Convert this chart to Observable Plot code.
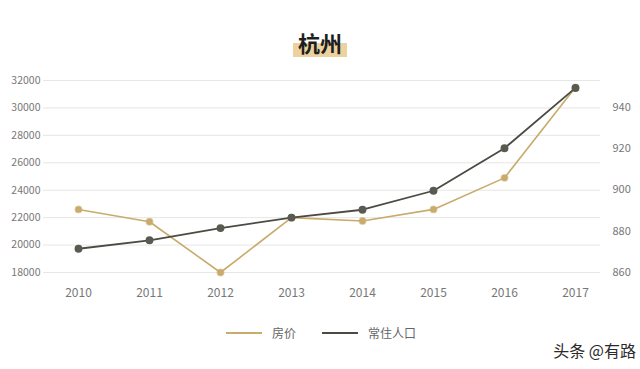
<!DOCTYPE html>
<html>
<head>
<meta charset="utf-8">
<script src="https://cdn.jsdelivr.net/npm/d3@7"></script>
<script src="https://cdn.jsdelivr.net/npm/@observablehq/plot@0.6"></script>
<style>
  html, body { margin: 0; padding: 0; background: #fff; }
  #wrap { position: relative; width: 640px; height: 369px; overflow: hidden; background: #fff;
          font-family: "Noto Sans CJK SC", "Noto Sans", sans-serif; }
  #title { position: absolute; left: 0; width: 640px; top: 28px; text-align: center; }
  #title span { position: relative; display: inline-block; font-size: 22px; font-weight: 700; color: #1e1e1e; line-height: 28px; padding: 0 5px; z-index: 1; }
  #title span::before { content: ""; position: absolute; left: 0px; right: 0px; top: 15px; height: 14px; background: #ecd29e; z-index: -1; }
  #chart { position: absolute; left: 0; top: 0; }
  #legend { position: absolute; top: 323px; left: 0; width: 640px; height: 20px; font-size: 12px; color: #666; }
  .sw { position: absolute; top: 9px; height: 2px; }
  .lt { position: absolute; top: 0; line-height: 20px; }
  #wm { position: absolute; right: 4px; top: 340px; font-size: 16px; color: #2a2a2a; line-height: 20px; }
</style>
</head>
<body>
<div id="wrap">
  <div id="chart"></div>
  <div id="title"><span>杭州</span></div>
  <div id="legend"></div>
  <div id="wm">头条 @有路</div>
</div>
<script>
const years = [2010, 2011, 2012, 2013, 2014, 2015, 2016, 2017];
const price = [22600, 21700, 18000, 22000, 21750, 22600, 24900, 31500];
const population = [871.5, 875.6, 881.5, 886.6, 890.4, 899.6, 920.2, 949.4];
const leftTicks = [18000, 20000, 22000, 24000, 26000, 28000, 30000, 32000];
const rightTicks = [860, 880, 900, 920, 940];
const seriesNames = ["房价", "常住人口"];
const colors = ["#c9ab6b", "#4b4a43"];

const leftDomain = [18000, 32000];
const rightDomain = [860, 953];
const toLeft = d3.scaleLinear(rightDomain, leftDomain);

const priceData = years.map((y, i) => ({year: y, v: price[i]}));
const popData = years.map((y, i) => ({year: y, v: toLeft(population[i])}));

const chart = Plot.plot({
  width: 640,
  height: 310,
  marginTop: 80,
  marginBottom: 38,
  marginLeft: 43,
  marginRight: 40,
  style: {fontFamily: '"Noto Sans CJK SC", "Noto Sans", sans-serif', color: "#777", background: "transparent"},
  x: {type: "point", domain: years, range: [76, 577], padding: 0},
  y: {domain: leftDomain},
  marks: [
    Plot.gridY(leftTicks, {stroke: "#e6e6e6", strokeOpacity: 1, strokeWidth: 1}),
    Plot.axisY({ticks: leftTicks, tickSize: 0, tickPadding: 3, fontSize: 10.5, tickFormat: d => String(d), label: null}),
    Plot.axisY({anchor: "right", ticks: rightTicks.map(toLeft), tickSize: 0, tickPadding: 12, fontSize: 11,
                tickFormat: d => String(Math.round(toLeft.invert(d))), label: null}),
    Plot.axisX({tickSize: 0, tickPadding: 16, fontSize: 12, tickFormat: d => String(d), label: null}),
    Plot.line(priceData, {x: "year", y: "v", stroke: colors[0], strokeWidth: 1.6}),
    Plot.dot(priceData, {x: "year", y: "v", r: 3.2, fill: colors[0], stroke: colors[0], strokeOpacity: 0.5}),
    Plot.line(popData, {x: "year", y: "v", stroke: colors[1], strokeWidth: 1.8}),
    Plot.dot(popData, {x: "year", y: "v", r: 3.2, fill: "#5a5a52", stroke: "#5a5a52"})
  ]
});
document.getElementById("chart").appendChild(chart);

const legend = document.getElementById("legend");
const swX = [226, 322], txtX = [272, 368];
seriesNames.forEach((n, i) => {
  const s = document.createElement("div");
  s.className = "sw";
  s.style.left = swX[i] + "px";
  s.style.width = "36px";
  s.style.background = colors[i];
  legend.appendChild(s);
  const t = document.createElement("div");
  t.className = "lt";
  t.style.left = txtX[i] + "px";
  t.textContent = n;
  legend.appendChild(t);
});
</script>
</body>
</html>
